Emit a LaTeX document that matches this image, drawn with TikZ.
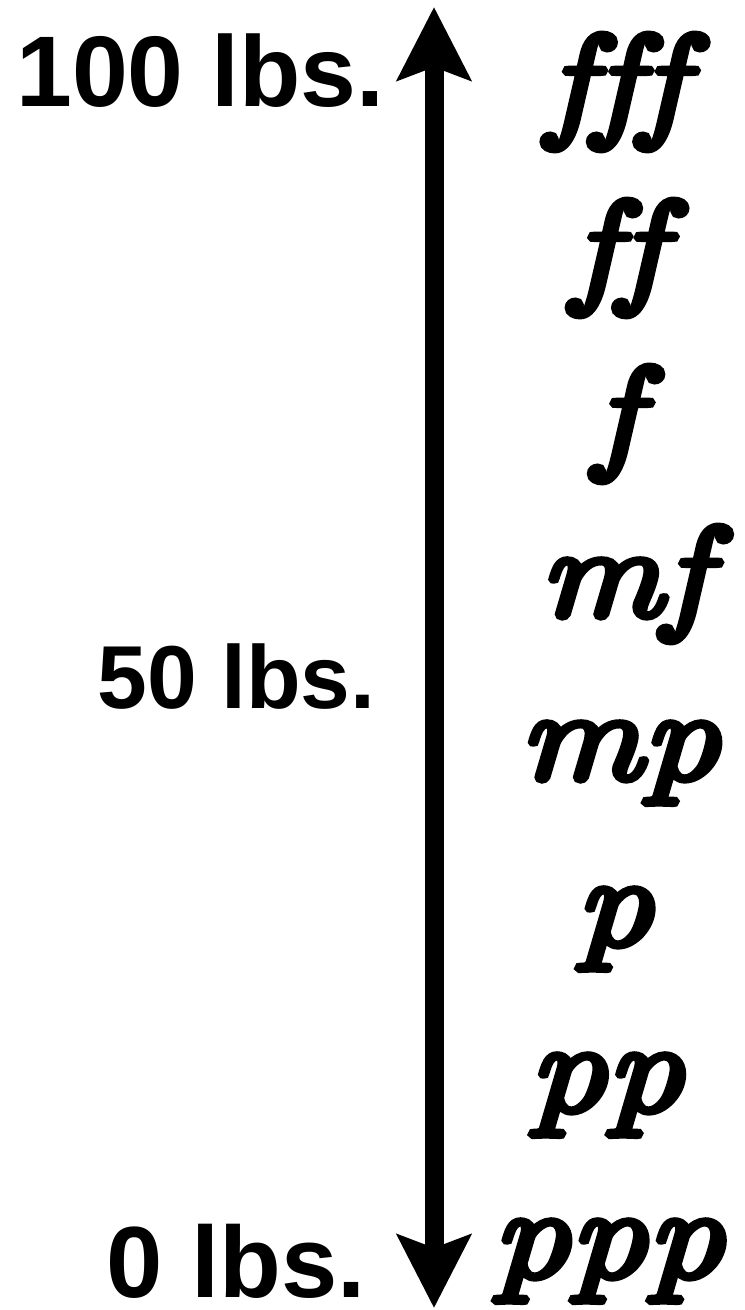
\documentclass[tikz,border=0pt]{standalone}
\usepackage{fontspec}
\setsansfont{Liberation Sans}
\newfontfamily\dynfont{lmroman10-italic.otf}[FakeBold=5,FakeStretch=1.18,Ligatures=NoCommon]
\usetikzlibrary{arrows.meta}

\begin{document}
\begin{tikzpicture}[x=0.5pt,y=-0.5pt,
  lbs/.style={font=\sffamily\bfseries\fontsize{#1}{#1}\selectfont,inner sep=0pt,anchor=base east},
  dyn/.style={font=\dynfont\fontsize{64}{64}\selectfont,inner sep=0pt,anchor=base}]
  \useasboundingbox (0,0) rectangle (744,1310);
  \coordinate (top) at (434,7);
  \coordinate (bot) at (434,1308);
  \draw[line width=9.5pt,{Stealth[length=36.5pt,width=36.5pt,inset=6.5pt]}-{Stealth[length=36.5pt,width=36.5pt,inset=6.5pt]}] (bot) -- (top);
  \node[lbs=50.2] (w100) at (385,107) {100 lbs.};
  \node[lbs=44.7] (w50) at (376,708) {50 lbs.};
  \node[lbs=50.6] (w0) at (366,1297) {0 lbs.};
  \foreach \d/\x/\y in {fff/616/124,ff/618/290,f/617/456,mf/624/616,mp/619/779,p/614/945,pp/606/1111,ppp/608/1277}
    {\node[dyn] (d\d) at (\x,\y) {\d};}
\end{tikzpicture}
\end{document}
